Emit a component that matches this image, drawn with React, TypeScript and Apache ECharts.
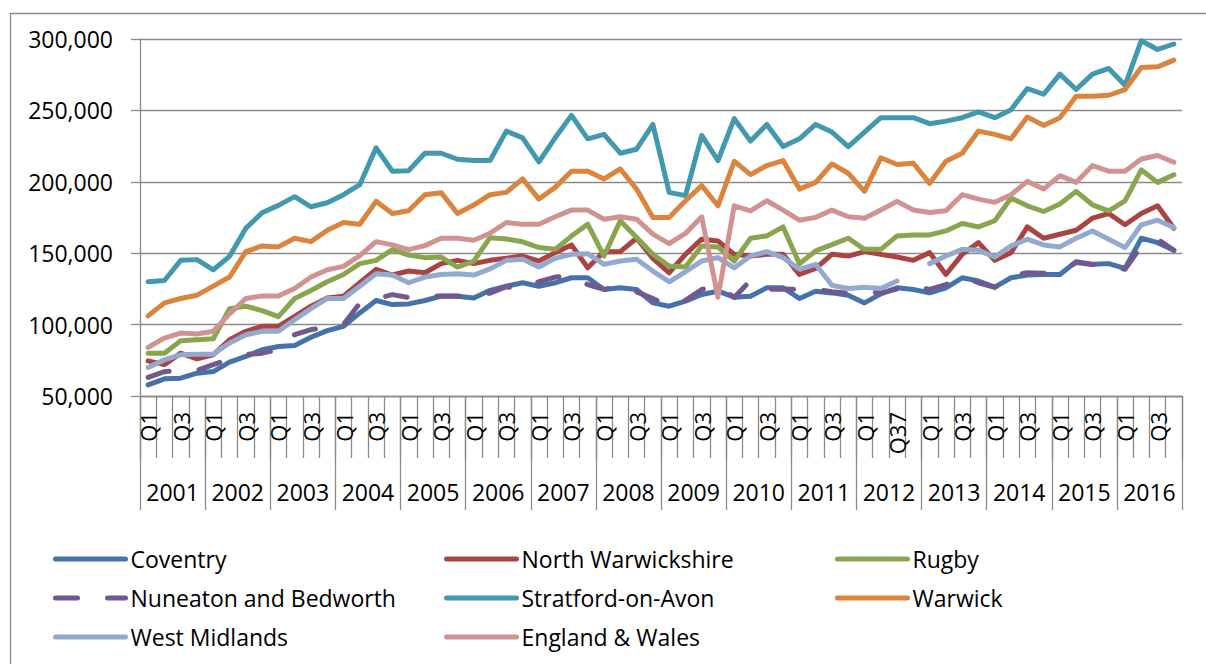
import React, { useEffect, useRef } from 'react';
import * as echarts from 'echarts';

const years = ['2001', '2002', '2003', '2004', '2005', '2006', '2007', '2008', '2009', '2010', '2011', '2012', '2013', '2014', '2015', '2016'];
const quarterNames = ['Q1', 'Q2', 'Q3', 'Q4'];
const quarterNames2012 = ['Q1', 'Q2', 'Q37', 'Q4'];
const quarterLabels = years.flatMap((y) => (y === '2012' ? quarterNames2012 : quarterNames));

const coventry = [57800, 62000, 62500, 66000, 67100, 73700, 77700, 82400, 84700, 85400, 91100, 95800, 98800, 108200, 116900, 114000, 114500, 116900, 119900, 119900, 118700, 124000, 126900, 129300, 126900, 129300, 132800, 132800, 124600, 125800, 124600, 115200, 112900, 116400, 121100, 123400, 119200, 119900, 125800, 125800, 118300, 123400, 122200, 120600, 115200, 121500, 125800, 124600, 122200, 125800, 132800, 130500, 126200, 132800, 134700, 135100, 135100, 144100, 142200, 142700, 139400, 160500, 157400, 152000];
const northWarwickshire = [74600, 72000, 80000, 76000, 78900, 89400, 95300, 98800, 98800, 105800, 112900, 118700, 119900, 129300, 138700, 134700, 137500, 136300, 142700, 145000, 142700, 145000, 146400, 148000, 144500, 150400, 155800, 139800, 151100, 151100, 160500, 146400, 136300, 149200, 159800, 158600, 149200, 148000, 149200, 149200, 135100, 139400, 149200, 148000, 151100, 149200, 147300, 145000, 150400, 135100, 149200, 157400, 145000, 150400, 168400, 160500, 163300, 166100, 174500, 177800, 169900, 177800, 183200, 167500];
const rugby = [80000, 80000, 88700, 89400, 90100, 111200, 112900, 109800, 105600, 118300, 123900, 130000, 135100, 142700, 145000, 152500, 148700, 146900, 147300, 140300, 144500, 160900, 160000, 158000, 154000, 152700, 162000, 170300, 148000, 172700, 161000, 149200, 141000, 140300, 155000, 154400, 144500, 160500, 162100, 168400, 142600, 151600, 156000, 160500, 152700, 152700, 162100, 162800, 162800, 165600, 170800, 168400, 172700, 188600, 183200, 179200, 184400, 193300, 183900, 179700, 186700, 208300, 199600, 205000];
const nuneaton = [63000, 67000, 68000, 68000, 72000, 76000, 79000, 80000, 82400, 93000, 96500, 98000, 100000, 115000, 118000, 121000, 119000, 120000, 120000, 120000, 120000, 122000, 126500, 124600, 130000, 133300, 134000, 128000, 124600, 127000, 123000, 118300, 112900, 117000, 124600, 127000, 119000, 131000, 124600, 125000, 124600, 124600, 123000, 122000, 123400, 122000, 125000, 127000, 124600, 128000, 133300, 129300, 126000, 134000, 136300, 136000, 137000, 143400, 142000, 142000, 138700, 155000, 159800, 152000];
const stratford = [130000, 130900, 145000, 145500, 138400, 147800, 167500, 178300, 183500, 189600, 182500, 185300, 191000, 198000, 223800, 207400, 207800, 220000, 220000, 215800, 214900, 214900, 235500, 230800, 213900, 230800, 246500, 230100, 233200, 220000, 222800, 240200, 192600, 190300, 232500, 214900, 244200, 228500, 240200, 224700, 230100, 240200, 234800, 224700, 234800, 244900, 244900, 244900, 240700, 242500, 244900, 248900, 244900, 250500, 265300, 261300, 275400, 264600, 275400, 279400, 267600, 298800, 292700, 296500];
const warwick = [106100, 115200, 118300, 120600, 126900, 133300, 151100, 155100, 154400, 160500, 158100, 166100, 171500, 170300, 186300, 177800, 179700, 191000, 192400, 177800, 183700, 191000, 192600, 202000, 187900, 196100, 207400, 207400, 202000, 209000, 194900, 175000, 175000, 186700, 197300, 183200, 214400, 205000, 211400, 214900, 194900, 199600, 212500, 206000, 193300, 216800, 212100, 213000, 198900, 214400, 220000, 235500, 233200, 230100, 245400, 239500, 244900, 259900, 259900, 260600, 264600, 280100, 280500, 285200];
const westMidlands = [70000, 75300, 78900, 79300, 79300, 87100, 92900, 95300, 95300, 103500, 111200, 118300, 118300, 126900, 135600, 134700, 129300, 133300, 135100, 135600, 134700, 139000, 145000, 145700, 140300, 146400, 149200, 149700, 142200, 144500, 145700, 137500, 130000, 137000, 144500, 146900, 139800, 148000, 151100, 146900, 138700, 142200, 127500, 125300, 126200, 125300, 130500, null, 142700, 148000, 152700, 152000, 147300, 155100, 159800, 155800, 154400, 160500, 165600, 159800, 153900, 169900, 173100, 168000];
const englandWales = [84000, 90600, 94100, 93400, 95300, 107500, 118300, 120100, 120100, 125300, 133300, 138400, 140800, 148300, 158100, 155800, 152500, 155300, 160500, 160500, 159100, 164000, 171500, 170300, 170300, 175500, 180200, 180200, 173800, 175500, 173800, 163300, 156700, 163800, 175500, 119200, 183200, 179700, 186700, 180200, 173100, 175100, 180200, 175500, 174500, 180200, 186300, 180200, 178500, 179700, 191000, 187900, 185600, 191000, 200300, 194900, 204300, 199600, 211400, 207400, 207400, 216000, 218400, 213700];

const seriesNames = ['Coventry', 'North Warwickshire', 'Rugby', 'Nuneaton and Bedworth', 'Stratford-on-Avon', 'Warwick', 'West Midlands', 'England & Wales'];
const seriesData = [coventry, northWarwickshire, rugby, nuneaton, stratford, warwick, westMidlands, englandWales];
const seriesColors = ['#4472aa', '#aa4442', '#89a54e', '#71588f', '#4198af', '#db843d', '#93a9cf', '#d19392'];

const FONT = '"Open Sans", sans-serif';
const GRAY = '#8a8a8a';

const legendCols = [53, 444, 835];
const legendRows = [559, 598, 637];

export default function App() {
  const ref = useRef<HTMLDivElement>(null);

  useEffect(() => {
    const chart = echarts.init(ref.current!, null, { renderer: 'svg' });

    const legends = seriesNames.map((name, i) => ({
      data: [name],
      left: legendCols[i % 3],
      top: legendRows[Math.floor(i / 3)] - 13,
      padding: 0,
      itemWidth: 70,
      itemHeight: 14,
      itemGap: 0,
      selectedMode: false,
      lineStyle: { width: 5, cap: 'round' },
      itemStyle: { color: 'rgba(0,0,0,0)', borderColor: 'rgba(0,0,0,0)', borderWidth: 0 },
      textStyle: { fontFamily: FONT, fontSize: 23, color: '#000', lineHeight: 26 },
    }));

    const option: any = {
      animation: false,
      backgroundColor: '#fff',
      graphic: [
        {
          type: 'rect',
          z: -10,
          shape: { x: 10.5, y: 13.5, width: 1230, height: 700 },
          style: { fill: 'none', stroke: GRAY, lineWidth: 1.3 },
        },
      ],
      legend: legends,
      grid: { left: 140, top: 39, width: 1042, height: 357, containLabel: false },
      xAxis: [
        {
          type: 'category',
          data: quarterLabels,
          boundaryGap: true,
          position: 'bottom',
          axisLine: { show: true, lineStyle: { color: GRAY, width: 1.3 } },
          axisTick: { show: true, interval: 0, length: 62, lineStyle: { color: GRAY, width: 1.3 } },
          axisLabel: { interval: 1, rotate: 90, margin: 16, fontFamily: FONT, fontSize: 22, color: '#000' },
          splitLine: { show: false },
        },
        {
          type: 'category',
          data: years,
          boundaryGap: true,
          position: 'bottom',
          offset: 0,
          axisLine: { show: false },
          axisTick: { show: true, interval: 0, length: 114, lineStyle: { color: GRAY, width: 1.3 } },
          axisLabel: { interval: 0, margin: 84, fontFamily: FONT, fontSize: 23, color: '#000' },
          splitLine: { show: false },
        },
      ],
      yAxis: {
        type: 'value',
        min: 50000,
        max: 300000,
        interval: 50000,
        axisLine: { show: true, lineStyle: { color: GRAY, width: 1.3 } },
        axisTick: { show: true, length: 9, lineStyle: { color: GRAY, width: 1.3 } },
        axisLabel: {
          margin: 27,
          fontFamily: FONT,
          fontSize: 23,
          color: '#000',
          formatter: (v: number) => v.toLocaleString('en-US'),
        },
        splitLine: { show: true, lineStyle: { color: GRAY, width: 1.3 } },
      },
      series: seriesNames.map((name, i) => ({
        name,
        type: 'line',
        xAxisIndex: 0,
        data: seriesData[i],
        symbol: 'none',
        connectNulls: false,
        color: seriesColors[i],
        itemStyle: { color: seriesColors[i] },
        lineStyle: {
          color: seriesColors[i],
          width: 5,
          cap: 'round',
          join: 'round',
          type: name === 'Nuneaton and Bedworth' ? [22, 30] : 'solid',
        },
      })),
    };

    chart.setOption(option);
    return () => chart.dispose();
  }, []);

  return (
    <div
      ref={ref}
      style={{ position: 'fixed', left: 0, top: 0, width: 1206, height: 664, background: '#fff' }}
    />
  );
}
